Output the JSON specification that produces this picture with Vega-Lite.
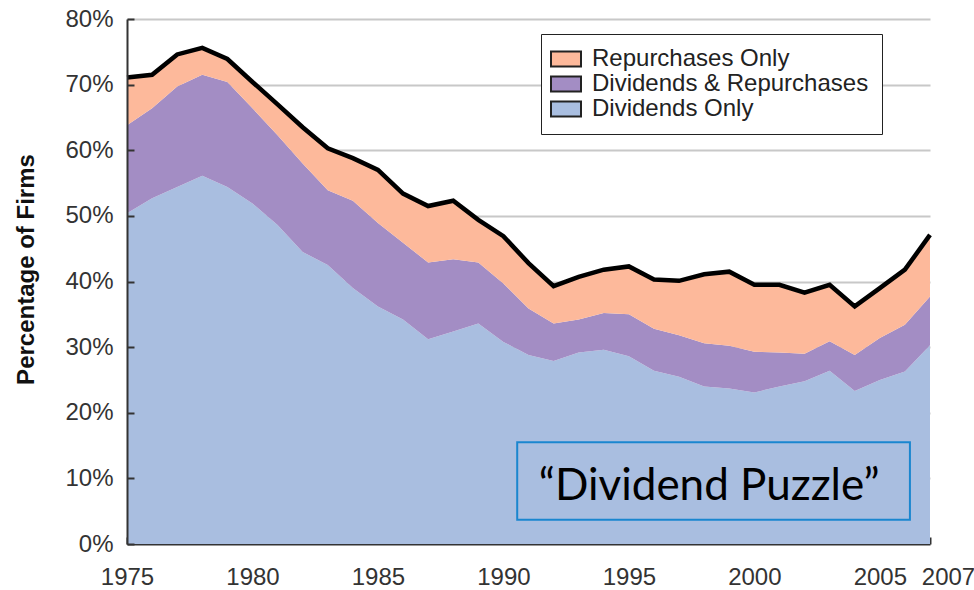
{
  "$schema": "https://vega.github.io/schema/vega-lite/v6.json",
  "width": 803,
  "height": 525,
  "autosize": {"type": "none"},
  "padding": {"left": 127, "top": 19, "right": 44, "bottom": 46},
  "background": "white",
  "config": {
    "view": {"stroke": null},
    "font": "Liberation Sans",
    "axisX": {
      "grid": false, "zindex": 1,
      "labelFontSize": 24, "labelColor": "#333", "labelFont": "Liberation Sans",
      "labelOverlap": false, "labelFlush": false,
      "tickSize": -7, "tickWidth": 2, "tickColor": "#333",
      "domainColor": "#333", "domainWidth": 2, "labelPadding": 28
    }
  },
  "data": {
    "values": [
      {"year": 1975, "Dividends Only": 50.4, "Dividends & Repurchases": 13.4, "Repurchases Only": 7.3},
      {"year": 1976, "Dividends Only": 52.7, "Dividends & Repurchases": 13.7, "Repurchases Only": 5.1},
      {"year": 1977, "Dividends Only": 54.4, "Dividends & Repurchases": 15.3, "Repurchases Only": 4.9},
      {"year": 1978, "Dividends Only": 56.1, "Dividends & Repurchases": 15.4, "Repurchases Only": 4.1},
      {"year": 1979, "Dividends Only": 54.4, "Dividends & Repurchases": 16.0, "Repurchases Only": 3.5},
      {"year": 1980, "Dividends Only": 51.9, "Dividends & Repurchases": 14.5, "Repurchases Only": 4.0},
      {"year": 1981, "Dividends Only": 48.6, "Dividends & Repurchases": 13.7, "Repurchases Only": 4.7},
      {"year": 1982, "Dividends Only": 44.5, "Dividends & Repurchases": 13.5, "Repurchases Only": 5.5},
      {"year": 1983, "Dividends Only": 42.5, "Dividends & Repurchases": 11.4, "Repurchases Only": 6.4},
      {"year": 1984, "Dividends Only": 39.0, "Dividends & Repurchases": 13.3, "Repurchases Only": 6.5},
      {"year": 1985, "Dividends Only": 36.2, "Dividends & Repurchases": 12.7, "Repurchases Only": 8.1},
      {"year": 1986, "Dividends Only": 34.2, "Dividends & Repurchases": 11.7, "Repurchases Only": 7.5},
      {"year": 1987, "Dividends Only": 31.2, "Dividends & Repurchases": 11.7, "Repurchases Only": 8.6},
      {"year": 1988, "Dividends Only": 32.4, "Dividends & Repurchases": 11.0, "Repurchases Only": 8.9},
      {"year": 1989, "Dividends Only": 33.6, "Dividends & Repurchases": 9.3, "Repurchases Only": 6.5},
      {"year": 1990, "Dividends Only": 30.8, "Dividends & Repurchases": 8.9, "Repurchases Only": 7.2},
      {"year": 1991, "Dividends Only": 28.8, "Dividends & Repurchases": 7.1, "Repurchases Only": 6.9},
      {"year": 1992, "Dividends Only": 27.9, "Dividends & Repurchases": 5.7, "Repurchases Only": 5.7},
      {"year": 1993, "Dividends Only": 29.2, "Dividends & Repurchases": 5.0, "Repurchases Only": 6.5},
      {"year": 1994, "Dividends Only": 29.6, "Dividends & Repurchases": 5.6, "Repurchases Only": 6.6},
      {"year": 1995, "Dividends Only": 28.6, "Dividends & Repurchases": 6.4, "Repurchases Only": 7.3},
      {"year": 1996, "Dividends Only": 26.4, "Dividends & Repurchases": 6.4, "Repurchases Only": 7.5},
      {"year": 1997, "Dividends Only": 25.5, "Dividends & Repurchases": 6.3, "Repurchases Only": 8.3},
      {"year": 1998, "Dividends Only": 24.0, "Dividends & Repurchases": 6.6, "Repurchases Only": 10.5},
      {"year": 1999, "Dividends Only": 23.7, "Dividends & Repurchases": 6.5, "Repurchases Only": 11.3},
      {"year": 2000, "Dividends Only": 23.1, "Dividends & Repurchases": 6.2, "Repurchases Only": 10.2},
      {"year": 2001, "Dividends Only": 24.0, "Dividends & Repurchases": 5.2, "Repurchases Only": 10.3},
      {"year": 2002, "Dividends Only": 24.8, "Dividends & Repurchases": 4.2, "Repurchases Only": 9.3},
      {"year": 2003, "Dividends Only": 26.4, "Dividends & Repurchases": 4.5, "Repurchases Only": 8.6},
      {"year": 2004, "Dividends Only": 23.3, "Dividends & Repurchases": 5.5, "Repurchases Only": 7.4},
      {"year": 2005, "Dividends Only": 25.0, "Dividends & Repurchases": 6.4, "Repurchases Only": 7.6},
      {"year": 2006, "Dividends Only": 26.3, "Dividends & Repurchases": 7.1, "Repurchases Only": 8.4},
      {"year": 2007, "Dividends Only": 30.3, "Dividends & Repurchases": 7.4, "Repurchases Only": 9.4}
    ]
  },
  "transform": [
    {"fold": ["Dividends Only", "Dividends & Repurchases", "Repurchases Only"], "as": ["group", "pct"]},
    {"window": [{"op": "row_number", "as": "stackrank"}], "groupby": ["year"]}
  ],
  "resolve": {"axis": {"y": "independent"}},
  "layer": [
    {
      "mark": {"type": "area", "opacity": 1},
      "encoding": {
        "x": {
          "field": "year", "type": "quantitative", "title": null,
          "scale": {"domain": [1975, 2007], "nice": false, "zero": false},
          "axis": {
            "values": [1975, 1980, 1985, 1990, 1995, 2000, 2005, 2007],
            "format": "d",
            "labelOffset": {"condition": {"test": "datum.value == 2007", "value": 18}, "value": 0}
          }
        },
        "y": {
          "field": "pct", "type": "quantitative", "stack": "zero",
          "scale": {"domain": [0, 80], "nice": false},
          "axis": {
            "orient": "left", "values": [10, 20, 30, 40, 50, 60, 70, 80],
            "grid": true, "gridColor": "#c8c8c8", "gridWidth": 2,
            "labels": false, "ticks": false, "domain": false, "title": null, "zindex": 0
          }
        },
        "order": {"field": "stackrank", "type": "quantitative", "sort": "ascending"},
        "color": {
          "field": "group", "type": "nominal",
          "scale": {
            "domain": ["Repurchases Only", "Dividends & Repurchases", "Dividends Only"],
            "range": ["#fdb99b", "#a38dc4", "#a9bee0"]
          },
          "legend": {
            "orient": "none", "legendX": 414, "legendY": 15, "title": null,
            "symbolType": "M-2,-1H2V1H-2Z", "symbolSize": 225,
            "symbolStrokeColor": "#222", "symbolStrokeWidth": 2, "symbolOpacity": 1,
            "labelFontSize": 24, "labelColor": "#222", "labelFont": "Liberation Sans",
            "labelLimit": 400, "labelOffset": 14,
            "padding": 13, "rowPadding": 1,
            "fillColor": "white", "strokeColor": "#222"
          }
        }
      }
    },
    {
      "mark": {"type": "line", "color": "black", "strokeWidth": 4.5},
      "encoding": {
        "x": {"field": "year", "type": "quantitative", "title": null},
        "y": {
          "aggregate": "sum", "field": "pct", "type": "quantitative",
          "axis": {
            "orient": "left", "values": [0, 10, 20, 30, 40, 50, 60, 70, 80],
            "labelExpr": "datum.value + '%'", "grid": false, "zindex": 1,
            "labelFontSize": 24, "labelColor": "#333", "labelFont": "Liberation Sans",
            "tickSize": -7, "tickWidth": 2, "tickColor": "#333",
            "domainColor": "#333", "domainWidth": 2, "labelPadding": 21,
            "title": "Percentage of Firms", "titleFontSize": 24, "titleFontWeight": "bold",
            "titleColor": "#111", "titleFont": "Liberation Sans",
            "titleX": -101, "titleY": 250, "titleBaseline": "middle", "titleAngle": -90
          }
        }
      }
    },
    {
      "data": {"values": [{}]},
      "mark": {"type": "rect", "filled": false, "stroke": "#1a86cf", "strokeWidth": 2},
      "encoding": {
        "x": {"datum": 1990.55, "type": "quantitative"},
        "x2": {"datum": 2006.2},
        "y": {"datum": 15.5, "type": "quantitative", "axis": null},
        "y2": {"datum": 3.7}
      }
    },
    {
      "data": {"values": [{}]},
      "mark": {"type": "text", "font": "Lato", "fontSize": 44, "align": "center", "baseline": "alphabetic", "color": "black", "text": "“Dividend Puzzle”"},
      "encoding": {
        "x": {"datum": 1998.2, "type": "quantitative"},
        "y": {"datum": 6.7, "type": "quantitative", "axis": null}
      }
    }
  ]
}
